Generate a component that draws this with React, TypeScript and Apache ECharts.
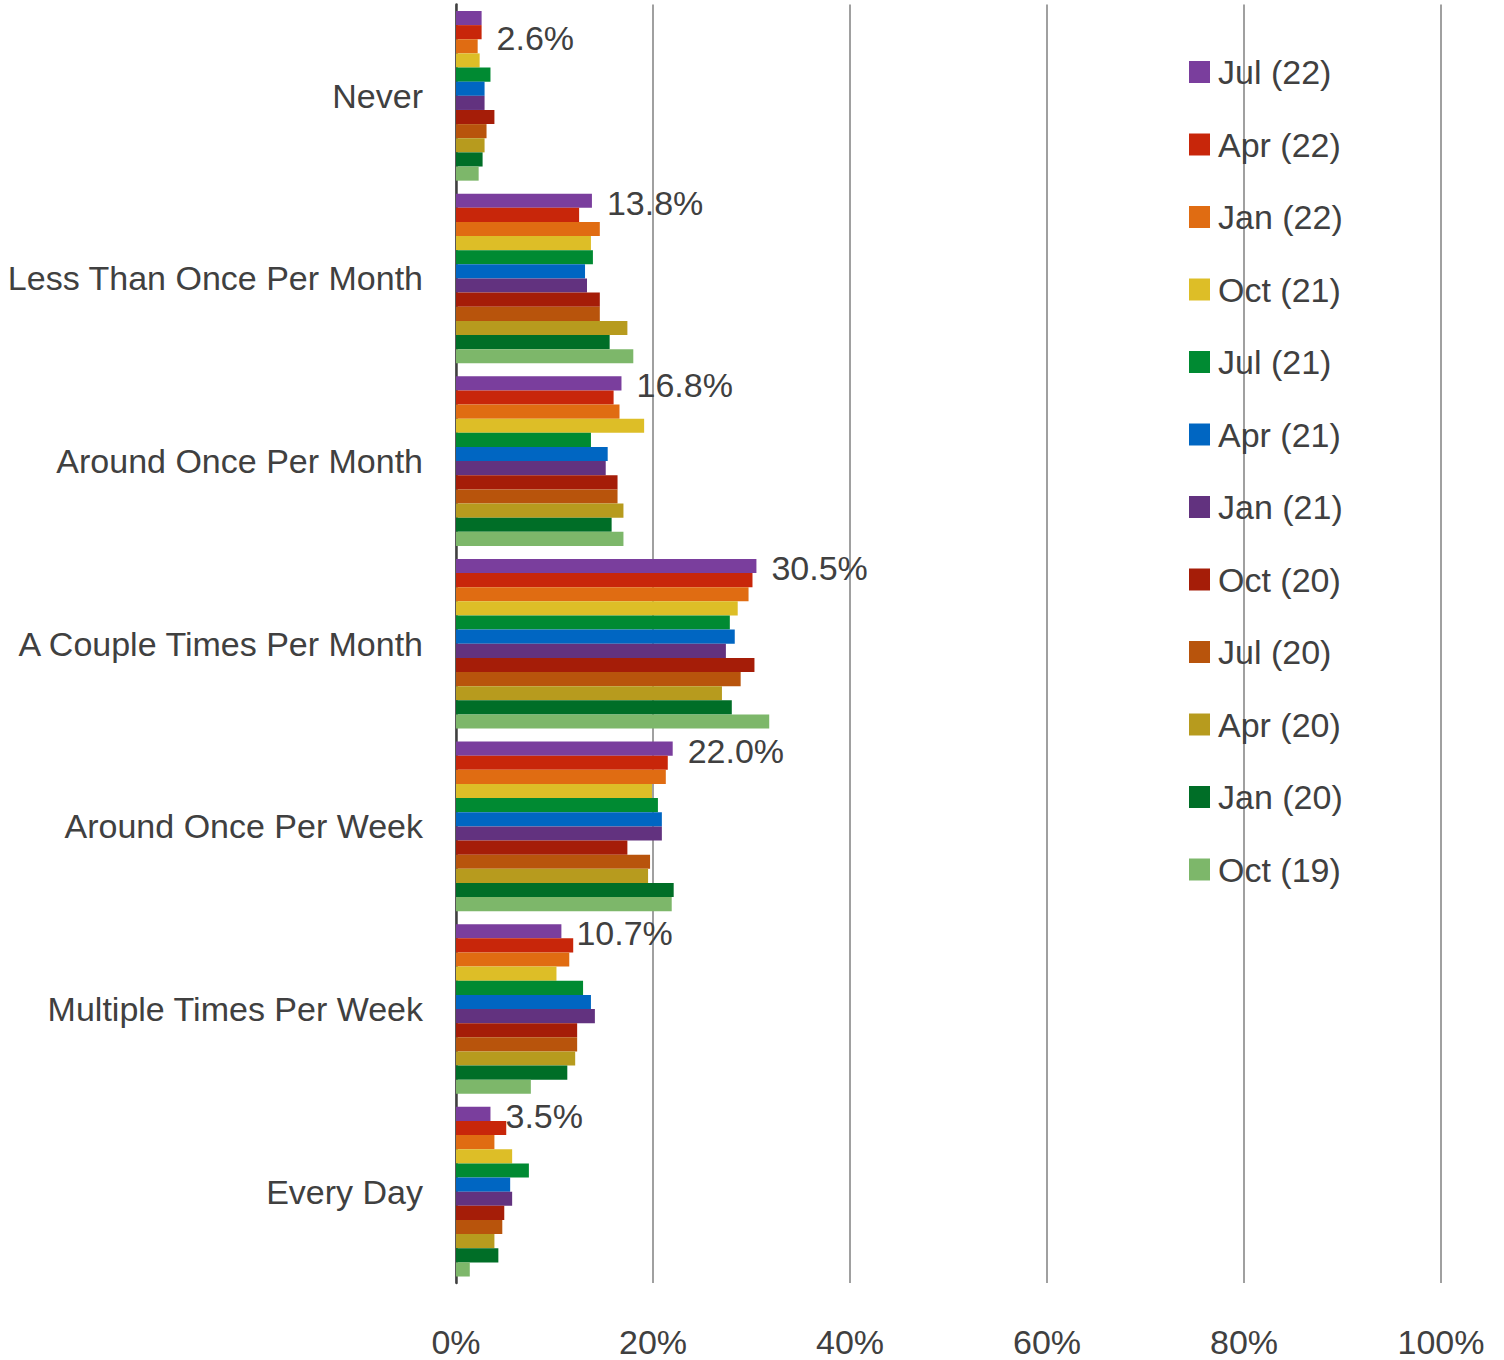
import React, { useEffect, useRef } from "react";
import * as echarts from "echarts";

const categories = [
  "Never",
  "Less Than Once Per Month",
  "Around Once Per Month",
  "A Couple Times Per Month",
  "Around Once Per Week",
  "Multiple Times Per Week",
  "Every Day",
];

const seriesNames = [
  "Jul (22)", "Apr (22)", "Jan (22)", "Oct (21)", "Jul (21)", "Apr (21)",
  "Jan (21)", "Oct (20)", "Jul (20)", "Apr (20)", "Jan (20)", "Oct (19)",
];

const seriesColors = [
  "#7A3E9D", "#C8260A", "#E06C12", "#DDBE27", "#008A32", "#0066C2",
  "#62327F", "#A51D08", "#B8540C", "#B79B1E", "#006E27", "#7DB76A",
];

// values per series, in category order
const jul22 = [2.6, 13.8, 16.8, 30.5, 22.0, 10.7, 3.5];
const apr22 = [2.6, 12.5, 16.0, 30.1, 21.5, 11.9, 5.1];
const jan22 = [2.2, 14.6, 16.6, 29.7, 21.3, 11.5, 3.9];
const oct21 = [2.4, 13.7, 19.1, 28.6, 19.9, 10.2, 5.7];
const jul21 = [3.5, 13.9, 13.7, 27.8, 20.5, 12.9, 7.4];
const apr21 = [2.9, 13.1, 15.4, 28.3, 20.9, 13.7, 5.5];
const jan21 = [2.9, 13.3, 15.2, 27.4, 20.9, 14.1, 5.7];
const oct20 = [3.9, 14.6, 16.4, 30.3, 17.4, 12.3, 4.9];
const jul20 = [3.1, 14.6, 16.4, 28.9, 19.7, 12.3, 4.7];
const apr20 = [2.9, 17.4, 17.0, 27.0, 19.5, 12.1, 3.9];
const jan20 = [2.7, 15.6, 15.8, 28.0, 22.1, 11.3, 4.3];
const oct19 = [2.3, 18.0, 17.0, 31.8, 21.9, 7.6, 1.4];

const seriesValues = [
  jul22, apr22, jan22, oct21, jul21, apr21, jan21, oct20, jul20, apr20, jan20, oct19,
];

const xTicks = [0, 20, 40, 60, 80, 100];

const FONT = "'Liberation Sans', Arial, sans-serif";
const FS = 34;
const TEXT = "#404040";

export default function App() {
  const ref = useRef<HTMLDivElement>(null);

  useEffect(() => {
    if (!ref.current) return;
    const chart = echarts.init(ref.current, null, { renderer: "svg" });

    const series = seriesNames.map((name, i) => ({
      name,
      type: "bar",
      data: seriesValues[i].map((v, ci) => {
        if (i === 0 && ci === 0) {
          return { value: v, label: { offset: [0, 20] } };
        }
        return v;
      }),
      itemStyle: { color: seriesColors[i] },
      barGap: "0%",
      barCategoryGap: "7.1%",
      label:
        i === 0
          ? {
              show: true,
              position: "right",
              distance: 15,
              offset: [0, 2],
              formatter: (p: any) => Number(p.value).toFixed(1) + "%",
              fontFamily: FONT,
              fontSize: FS,
              color: TEXT,
            }
          : { show: false },
    }));

    chart.setOption({
      animation: false,
      backgroundColor: "#ffffff",
      grid: {
        left: 456,
        right: 63,
        top: 4.5,
        bottom: 77,
        containLabel: false,
        outerBoundsMode: "none",
      },
      legend: {
        orient: "vertical",
        left: 1189,
        top: 52,
        padding: 0,
        icon: "rect",
        itemWidth: 21,
        itemHeight: 22,
        itemGap: 32.5,
        data: seriesNames,
        textStyle: {
          fontFamily: FONT,
          fontSize: FS,
          color: TEXT,
          lineHeight: 40,
          padding: [0, 0, 0, 3],
        },
      },
      xAxis: {
        type: "value",
        min: 0,
        max: 100,
        interval: 20,
        axisLine: { show: false },
        axisTick: { show: false },
        splitLine: { show: true, lineStyle: { color: "#A0A0A0", width: 2 } },
        axisLabel: {
          formatter: (v: number) => (xTicks.includes(v) ? v + "%" : ""),
          fontFamily: FONT,
          fontSize: FS,
          color: TEXT,
          margin: 42,
        },
      },
      yAxis: {
        type: "category",
        inverse: true,
        data: categories,
        axisLine: { show: true, lineStyle: { color: "#404040", width: 2.5 } },
        axisTick: { show: false },
        axisLabel: {
          fontFamily: FONT,
          fontSize: FS,
          color: TEXT,
          margin: 33,
        },
      },
      series,
    });

    return () => chart.dispose();
  }, []);

  return (
    <div
      ref={ref}
      style={{ position: "absolute", left: 0, top: 0, width: 1504, height: 1360 }}
    />
  );
}
